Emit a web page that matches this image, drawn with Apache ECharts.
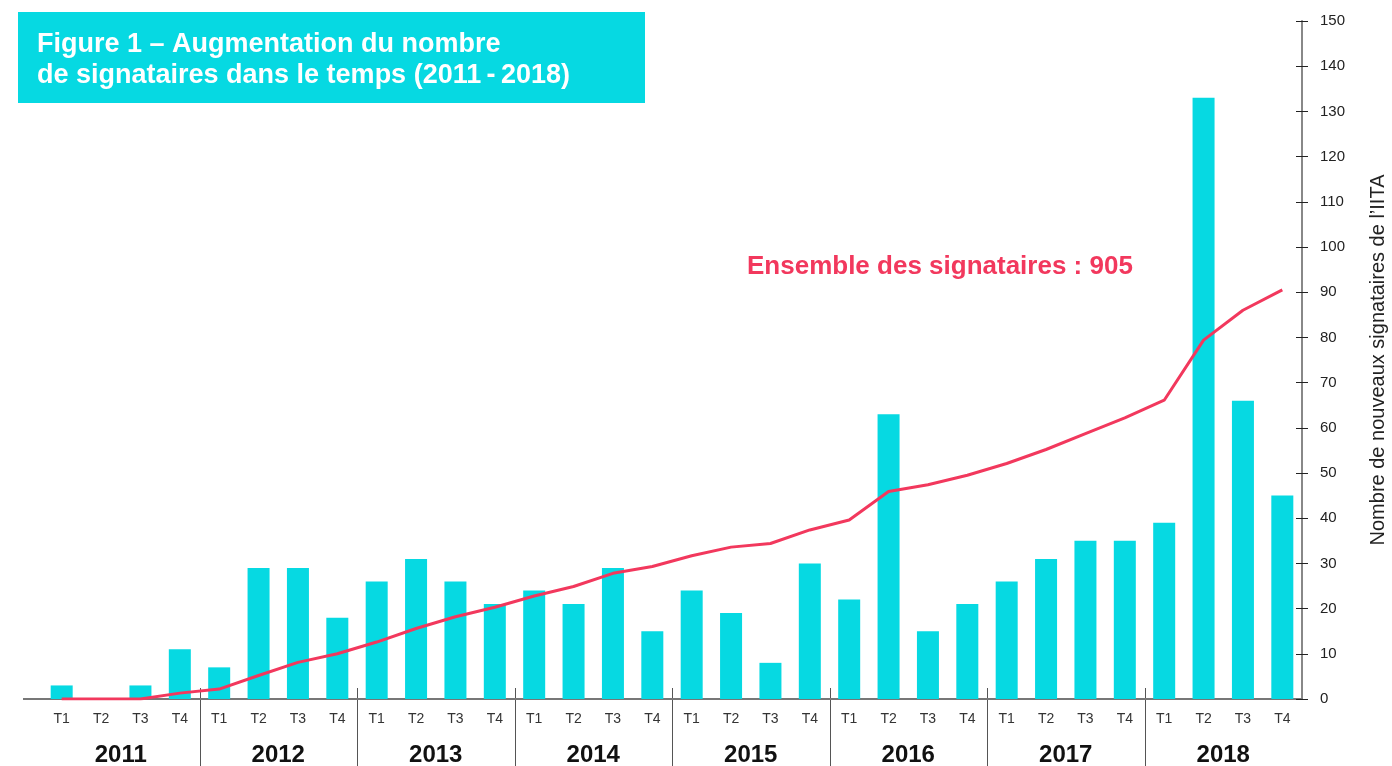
<!DOCTYPE html>
<html>
	<head>
		<meta charset="UTF-8">
		<title>Figure 1</title>
		<script type="text/javascript" src="https://cdn.jsdelivr.net/npm/echarts@6/dist/echarts.min.js"></script>
	</head>
	<body style="margin:0;background:#fff;">
		<div id="main" style="width: 1392px;height: 766px;"></div>
		<script type="text/javascript">
			// trimestres et années
			var quarters=['T1','T2','T3','T4'];
			var years=['2011','2012','2013','2014','2015','2016','2017','2018'];
			// nouveaux signataires par trimestre
			var newSigners=[3,0,3,11, 7,29,29,18, 26,31,26,21, 24,21,29,15, 24,19,8,30, 22,63,15,21, 26,31,35,35, 39,133,66,45];
			// ensemble des signataires (en dizaines)
			var totalSigners=[0,0,0,1.3, 2.2,5.2,8.1,10, 12.6,15.6,18.2,20.3, 22.8,24.9,27.8,29.3, 31.7,33.6,34.4,37.4, 39.6,45.9,47.4,49.5, 52.1,55.2,58.7,62.2, 66.1,79.4,86,90.5];
			var yTicks=[0,150,10];

			var cats=[];
			years.forEach(function(y){
				quarters.forEach(function(q){ cats.push(y+' '+q); });
			});

			var cyan='#06d9e2';
			var red='#f2385d';

			var myChart=echarts.init(document.getElementById('main'));

			var option={
				animation:false,
				grid:{left:42,right:90,top:21,bottom:67,containLabel:false,outerBoundsMode:'none'},
				xAxis:[{
					type:'category',
					data:cats,
					axisLine:{lineStyle:{color:'#777',width:2}},
					axisTick:{show:false},
					axisLabel:{
						margin:13,
						fontSize:14,
						color:'#333',
						fontFamily:'Liberation Sans',
						formatter:function(v){ return v.split(' ')[1]; }
					}
				},{
					type:'category',
					data:years,
					position:'bottom',
					axisLine:{show:false},
					axisTick:{show:false},
					axisLabel:{
						margin:44,
						fontSize:24,
						fontWeight:'bold',
						color:'#111',
						fontFamily:'Liberation Sans'
					}
				}],
				yAxis:[{
					type:'value',
					position:'right',
					min:yTicks[0],max:yTicks[1],interval:yTicks[2],
					splitLine:{show:false},
					axisLine:{show:true,lineStyle:{color:'#888',width:2}},
					axisTick:{show:true,length:6,lineStyle:{color:'#222'}},
					axisLabel:{margin:18,fontSize:15,color:'#222',fontFamily:'Liberation Sans'},
					name:'Nombre de nouveaux signataires de l\u2019IITA',
					nameLocation:'middle',
					nameRotate:90,
					nameGap:66,
					nameTextStyle:{fontSize:20,color:'#222',fontFamily:'Liberation Sans'}
				},{
					type:'value',
					position:'right',
					min:yTicks[0],max:yTicks[1],interval:yTicks[2],
					splitLine:{show:false},
					axisLine:{show:false},
					axisTick:{show:true,inside:true,length:6,lineStyle:{color:'#222'}},
					axisLabel:{show:false}
				}],
				series:[{
					name:'Nouveaux signataires',
					type:'bar',
					barWidth:22,
					itemStyle:{color:cyan},
					data:newSigners
				},{
					name:'Ensemble des signataires',
					type:'line',
					symbol:'none',
					lineStyle:{color:red,width:3},
					data:totalSigners
				}]
			};
			myChart.setOption(option);

			// séparateurs d'années, prolongement de l'axe, titre
			var p0=myChart.convertToPixel({xAxisIndex:0},0);
			var p1=myChart.convertToPixel({xAxisIndex:0},1);
			var band=p1-p0;
			var base=myChart.convertToPixel({yAxisIndex:0},0);
			var graphics=[];
			for(var i=1;i<years.length;i++){
				var x=Math.round(myChart.convertToPixel({xAxisIndex:0},i*4)-band/2)+0.5;
				graphics.push({type:'line',shape:{x1:x,y1:base-11,x2:x,y2:766},style:{stroke:'#555',lineWidth:1}});
			}
			graphics.push({type:'line',shape:{x1:23,y1:base,x2:p0-band/2,y2:base},style:{stroke:'#777',lineWidth:2}});
			graphics.push({type:'rect',shape:{x:18,y:12,width:627,height:91},style:{fill:cyan}});
			graphics.push({type:'text',x:37,y:29,style:{
				text:'Figure 1 \u2013 Augmentation du nombre\nde signataires dans le temps (2011\u2009-\u20092018)',
				fill:'#fff',font:'bold 27px "Liberation Sans"',lineHeight:31
			}});
			graphics.push({type:'text',x:747,y:254,style:{
				text:'Ensemble des signataires : 905',
				fill:red,font:'bold 26px "Liberation Sans"'
			}});
			myChart.setOption({graphic:graphics});
		</script>
	</body>
</html>
